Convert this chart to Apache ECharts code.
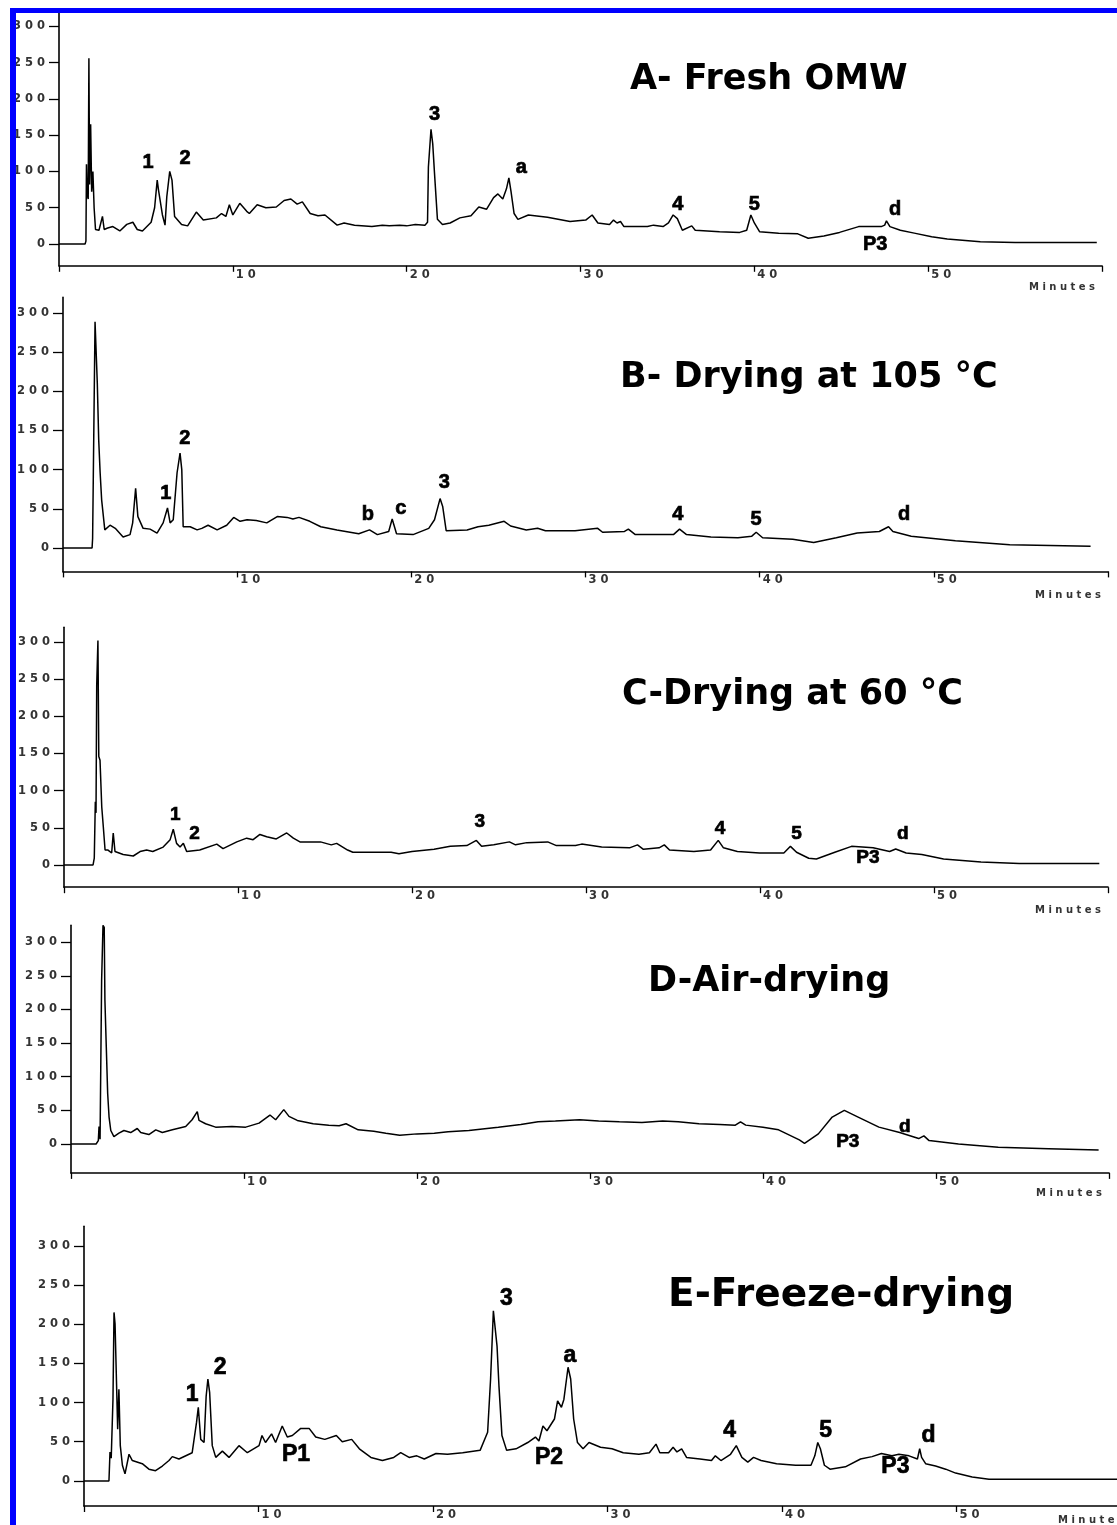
<!DOCTYPE html>
<html><head><meta charset="utf-8">
<script src="https://cdn.jsdelivr.net/npm/echarts@6/dist/echarts.min.js"></script>
<style>html,body{margin:0;padding:0;background:#fff;overflow:hidden}#c{width:1140px;height:1525px}</style>
</head><body><div id="c"></div>
<script>
// ---- data: retention time (min) vs detector response ----
const traceA = [[0,0],[1.5,0],[1.55,4],[1.58,110],[1.62,68],[1.68,62],[1.72,256],[1.76,82],[1.82,165],[1.88,72],[1.95,100],[2.02,50],[2.1,20],[2.3,19],[2.5,38],[2.6,20],[2.8,22],[3.1,24],[3.5,18],[3.9,27],[4.25,30],[4.5,20],[4.8,18],[5.3,30],[5.5,50],[5.65,88],[5.72,75],[5.8,76],[5.95,40],[6.1,26],[6.2,65],[6.37,100],[6.5,88],[6.65,38],[7.05,27],[7.4,25],[7.9,44],[8.3,33],[9.05,36],[9.35,42],[9.6,38],[9.8,54],[10.0,40],[10.4,56],[10.8,45],[10.95,42],[11.4,54],[11.9,50],[12.5,51],[12.95,60],[13.34,62],[13.7,55],[14.0,58],[14.45,42],[14.9,39],[15.3,40],[16.0,26],[16.4,29],[17.0,26],[18.0,24],[18.6,26],[19.0,25],[19.6,26],[20.0,25],[20.5,27],[21.05,26],[21.2,30],[21.25,106],[21.4,158],[21.5,138],[21.6,98],[21.77,34],[22.06,27],[22.5,29],[23.06,36],[23.7,39],[24.15,51],[24.6,48],[25.0,64],[25.25,69],[25.53,62],[25.74,76],[25.88,91],[26.0,73],[26.18,42],[26.4,34],[27.0,40],[28.1,37],[29.4,31],[30.3,33],[30.67,40],[31.0,29],[31.67,27],[31.9,33],[32.1,29],[32.3,31],[32.5,24],[33.85,24],[34.2,26],[34.75,24],[35.06,29],[35.33,40],[35.57,35],[35.86,19],[36.4,25],[36.6,19],[38.0,17],[39.16,16],[39.56,19],[39.8,40],[40.0,29],[40.3,17],[41.4,15],[42.5,14],[43.1,8],[44.0,11],[44.9,16],[46.0,24],[47.3,24],[47.5,26],[47.6,32],[47.8,24],[48.4,19],[49.2,15],[50.2,10],[51.1,7],[53.0,3],[55,2],[59.7,2]];
const traceB = [[0,0],[1.67,0],[1.7,12],[1.74,91],[1.84,289],[1.9,287],[1.97,210],[2.05,138],[2.13,97],[2.22,61],[2.4,23],[2.7,29],[3.0,25],[3.45,14],[3.85,17],[4.0,32],[4.17,76],[4.3,40],[4.6,25],[5.0,24],[5.4,19],[5.75,32],[6.0,51],[6.15,32],[6.33,36],[6.55,96],[6.72,121],[6.82,100],[6.9,27],[7.3,27],[7.7,23],[7.97,25],[8.33,29],[8.85,23],[9.4,29],[9.8,39],[10.17,34],[10.57,36],[11.1,35],[11.7,32],[12.3,40],[12.87,39],[13.2,37],[13.55,39],[14.17,34],[14.8,27],[15.73,23],[16.98,18],[17.6,23],[18.05,17],[18.7,21],[18.9,37],[19.15,18],[20.1,17],[21.0,25],[21.33,36],[21.65,63],[21.8,53],[22.0,22],[23.2,23],[23.83,27],[24.45,29],[25.33,34],[25.7,28],[26.6,23],[27.25,25],[27.7,22],[29.4,22],[30.7,25],[30.98,20],[32.24,21],[32.46,24],[32.86,17],[35.05,17],[35.4,24],[35.8,17],[37.2,14],[38.75,13],[39.55,15],[39.8,20],[40.17,13],[41.9,11],[43.1,7],[44.4,13],[45.6,19],[46.87,21],[47.4,27],[47.65,21],[48.7,15],[51.24,9],[54.36,4],[59.0,2]];
const traceC = [[0,0],[1.67,0],[1.74,9],[1.8,85],[1.84,70],[1.88,242],[1.95,302],[2.0,146],[2.07,141],[2.17,78],[2.26,51],[2.36,20],[2.53,20],[2.74,16],[2.83,43],[2.93,18],[3.4,14],[3.98,12],[4.37,18],[4.75,20],[5.1,18],[5.7,24],[6.1,34],[6.28,48],[6.47,29],[6.67,24],[6.86,29],[7.05,18],[7.8,20],[8.78,28],[9.14,22],[9.93,31],[10.5,36],[10.87,34],[11.26,41],[11.65,38],[12.2,35],[12.8,43],[13.18,36],[13.56,31],[14.1,31],[14.74,31],[15.36,27],[15.67,29],[16.3,20],[16.6,17],[18.8,17],[19.25,15],[20.0,18],[21.27,21],[22.2,25],[23.15,26],[23.7,33],[24.0,25],[24.7,27],[25.6,31],[25.95,27],[26.6,30],[27.8,31],[28.3,26],[29.4,26],[29.75,28],[30.9,24],[32.5,23],[32.96,27],[33.3,21],[34.2,23],[34.5,27],[34.8,20],[36.2,18],[37.16,20],[37.6,33],[37.9,23],[38.7,18],[39.97,16],[41.37,16],[41.75,25],[42.1,17],[42.8,9],[43.24,8],[44.3,17],[45.26,25],[46.5,23],[47.45,18],[47.8,21.5],[48.4,16],[49.3,14],[50.55,8],[52.7,4],[54.9,2],[59.5,2]];
const traceD = [[0,0],[0.1,2],[1.45,0],[1.58,5],[1.62,26],[1.68,7],[1.77,243],[1.85,325],[1.92,322],[1.96,214],[2.04,144],[2.12,75],[2.2,40],[2.3,20],[2.48,11],[2.77,16],[3.06,20],[3.45,17],[3.83,23],[4.03,17],[4.5,14],[4.9,21],[5.28,17],[5.86,21],[6.63,26],[7.0,36],[7.3,48],[7.4,35],[7.78,30],[8.36,25],[9.3,26],[10.1,25],[10.87,31],[11.5,43],[11.83,36],[12.3,51],[12.6,41],[13.08,35],[14.0,30],[14.9,28],[15.5,27],[15.9,30],[16.6,21],[17.5,19],[18.2,16],[19.0,13],[20.0,15],[21.0,16],[21.8,18],[23.0,20],[24.7,25],[26.0,29],[27.0,33],[28.0,34],[29.4,36],[30.5,34],[31.7,33],[33.0,32],[34.2,34],[35.1,33],[36.3,30],[37.5,29],[38.4,28],[38.7,33],[39.0,28],[40.0,25],[40.9,21],[42.1,6],[42.4,1],[43.2,15],[44.0,40],[44.7,50],[45.5,40],[46.7,25],[47.9,17],[49.0,8],[49.3,12],[49.6,5],[51.3,0],[53.6,-5],[56.5,-7],[59.4,-9]];
const traceE = [[0,0],[1.43,0],[1.49,37],[1.56,29],[1.66,104],[1.72,215],[1.78,200],[1.85,200],[1.93,66],[2.0,117],[2.08,45],[2.2,20],[2.35,9],[2.58,34],[2.77,26],[3.34,22],[3.72,15],[4.1,13],[4.49,19],[4.87,26],[5.06,31],[5.44,28],[6.2,36],[6.45,75],[6.55,94],[6.69,53],[6.88,49],[7.0,108],[7.1,130],[7.2,113],[7.35,45],[7.55,30],[7.93,38],[8.31,30],[8.88,45],[9.36,36],[10.03,45],[10.2,58],[10.4,49],[10.75,60],[10.98,49],[11.36,70],[11.65,56],[11.94,58],[12.42,67],[12.9,67],[13.28,56],[13.8,53],[14.46,58],[14.8,50],[15.34,53],[15.78,41],[16.44,30],[17.1,26],[17.75,30],[18.15,36],[18.63,30],[19.07,32],[19.5,28],[20.17,35],[20.83,34],[21.7,36],[22.7,39],[23.13,62],[23.3,130],[23.46,217],[23.56,219],[23.67,172],[23.78,121],[23.95,58],[24.22,39],[24.76,41],[25.43,49],[25.87,56],[26.07,51],[26.3,70],[26.53,64],[26.96,79],[27.14,102],[27.36,94],[27.5,104],[27.74,145],[27.89,130],[28.06,79],[28.28,49],[28.6,41],[28.94,49],[29.6,43],[30.26,41],[30.9,36],[31.8,34],[32.4,36],[32.78,47],[33.0,36],[33.5,36],[33.76,43],[33.98,37],[34.25,41],[34.53,30],[35.3,28],[35.96,26],[36.18,32],[36.5,26],[37.05,34],[37.38,45],[37.7,30],[38.04,24],[38.37,30],[38.8,26],[39.69,22],[40.78,20],[41.66,20],[41.88,32],[42.05,49],[42.2,41],[42.43,20],[42.75,15],[43.63,18],[44.5,28],[45.16,31],[45.7,35],[46.3,32],[46.7,34],[47.28,32],[47.76,28],[47.89,41],[48.0,30],[48.23,22],[48.8,19],[49.38,15],[49.95,10],[50.9,5],[51.86,2],[59.1,2],[60,2]];

// peak annotations: [time, response, text]
const labelsA = [[5.12,112,'1'],[7.25,118,'2'],[21.6,178,'3'],[26.6,105,'a'],[35.6,54,'4'],[40.0,55,'5'],[48.1,47,'d'],[46.95,-1,'P3']];
const labelsB = [[5.9,69,'1'],[7.0,140,'2'],[17.5,43,'b'],[19.4,50,'c'],[21.9,84,'3'],[35.3,43,'4'],[39.8,36,'5'],[48.3,43,'d']];
const labelsC = [[6.4,67,'1'],[7.5,42,'2'],[23.9,58,'3'],[37.7,48,'4'],[42.1,42,'5'],[48.2,42,'d'],[46.2,9,'P3']];
const labelsD = [[44.9,3,'P3'],[48.2,25,'d']];
const labelsE = [[6.2,110,'1'],[7.8,145,'2'],[12.15,34,'P1'],[24.2,232,'3'],[27.85,160,'a'],[26.65,30,'P2'],[37.0,64,'4'],[42.5,64,'5'],[48.4,58,'d'],[46.5,18,'P3']];

const titles = ['A- Fresh OMW','B- Drying at 105 °C','C-Drying at 60 °C','D-Air-drying','E-Freeze-drying'];
const yTickValues = [0,50,100,150,200,250,300];
const xTickValues = [0,10,20,30,40,50,60];
const xLabelValues = [10,20,30,40,50];
const xName = 'Minutes';

// ---- layout ----
const traces = [traceA,traceB,traceC,traceD,traceE];
const labelSets = [labelsA,labelsB,labelsC,labelsD,labelsE];
const layout = [
  {left:59, width:1043, top:11.7, height:254.1, min:-30, max:320, tx:630, ty:80, ts:35, ls:20, np:17},
  {left:63, width:1045, top:297.4, height:274, min:-30, max:320, tx:620, ty:378, ts:35, ls:20, np:19},
  {left:64, width:1044, top:627.2, height:260, min:-30, max:320, tx:622, ty:695, ts:35, ls:19, np:18},
  {left:71, width:1038, top:925.3, height:247.6, min:-43, max:325, tx:648, ty:982, ts:35, ls:19, np:16},
  {left:84, width:1047, top:1226.2, height:281, min:-32, max:325, tx:668, ty:1296, ts:39, ls:23, np:9}
];
const spaced = v => String(v).split('').join(' ');
const axisFont = {fontSize:11.5, fontWeight:'bold', fontFamily:'DejaVu Sans', color:'#333'};

const grid=[], xAxis=[], yAxis=[], series=[], graphic=[];
layout.forEach((L,i)=>{
  grid.push({left:L.left, top:L.top, width:L.width, height:L.height});
  xAxis.push({gridIndex:i, type:'value', min:0, max:60,
    axisLine:{onZero:false, lineStyle:{color:'#000', width:1.6}},
    axisTick:{customValues:xTickValues, length:6, lineStyle:{color:'#000', width:1.3}},
    axisLabel:Object.assign({customValues:xLabelValues, formatter:spaced, align:'left', verticalAlign:'top', margin:3, padding:[0,0,0,3]}, axisFont),
    splitLine:{show:false},
    name:spaced(xName), nameLocation:'end', nameGap:-7,
    nameTextStyle:{align:'right', verticalAlign:'top', padding:[L.np,0,0,0], fontSize:10, fontWeight:'bold', fontFamily:'DejaVu Sans', color:'#333'}
  });
  yAxis.push({gridIndex:i, type:'value', min:L.min, max:L.max,
    axisLine:{show:true, onZero:false, lineStyle:{color:'#000', width:1.6}},
    axisTick:{show:true, customValues:yTickValues, length:10, lineStyle:{color:'#000', width:1.3}},
    axisLabel:Object.assign({customValues:yTickValues, formatter:spaced, margin:14}, axisFont),
    splitLine:{show:false}
  });
  series.push({type:'line', xAxisIndex:i, yAxisIndex:i, data:traces[i], symbol:'none', showSymbol:false,
    lineStyle:{color:'#000', width:1.5}, animation:false});
  series.push({type:'scatter', xAxisIndex:i, yAxisIndex:i, data:labelSets[i], symbolSize:0, silent:true, clip:false, animation:false,
    itemStyle:{opacity:1},
    label:{show:true, position:'inside', formatter:p=>p.data[2], color:'#000', fontWeight:'bold', fontSize:L.ls, fontFamily:'Liberation Sans',
      textBorderColor:'#000', textBorderWidth:0.7}});
  graphic.push({type:'text', x:L.tx, y:L.ty, z:50,
    style:{text:titles[i], fill:'#000', font:'bold '+L.ts+'px "DejaVu Sans"', align:'left', verticalAlign:'middle'}});
});
// blue frame
graphic.push({type:'rect', z:100, shape:{x:10, y:8, width:6, height:1530}, style:{fill:'#0000ff'}});
graphic.push({type:'rect', z:100, shape:{x:10, y:8, width:1140, height:5}, style:{fill:'#0000ff'}});

const chart = echarts.init(document.getElementById('c'), null, {renderer:'canvas'});
chart.setOption({animation:false, backgroundColor:'#fff', grid, xAxis, yAxis, series, graphic});
</script>
</body></html>
